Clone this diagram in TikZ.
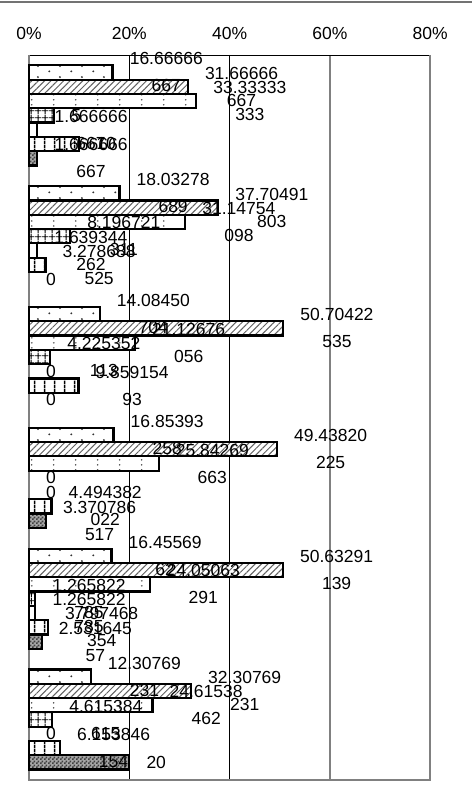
\documentclass[tikz,border=0pt]{standalone}
\usepackage{fontspec}
\setmainfont{Liberation Sans}
\usetikzlibrary{patterns,patterns.meta}

\pgfdeclarepatternformonly{sparsedots}{\pgfpointorigin}{\pgfpoint{22pt}{11pt}}{\pgfpoint{22pt}{11pt}}{%
  \pgfpathcircle{\pgfpoint{5.5pt}{2.75pt}}{1.1pt}%
  \pgfpathcircle{\pgfpoint{16.5pt}{8.25pt}}{1.1pt}%
  \pgfusepath{fill}}
\pgfdeclarepatternformonly{dotcolumns}{\pgfpointorigin}{\pgfpoint{21.7pt}{4.5pt}}{\pgfpoint{21.7pt}{4.5pt}}{%
  \pgfpathcircle{\pgfpoint{10.85pt}{2.25pt}}{0.9pt}%
  \pgfusepath{fill}}
\pgfdeclarepatternformonly{smallgrid}{\pgfpointorigin}{\pgfpoint{7pt}{7pt}}{\pgfpoint{7pt}{7pt}}{%
  \pgfsetlinewidth{1pt}%
  \pgfpathmoveto{\pgfpoint{0pt}{3.5pt}}\pgfpathlineto{\pgfpoint{7pt}{3.5pt}}%
  \pgfpathmoveto{\pgfpoint{3.5pt}{0pt}}\pgfpathlineto{\pgfpoint{3.5pt}{7pt}}%
  \pgfusepath{stroke}}
\pgfdeclarepatternformonly{vbars}{\pgfpointorigin}{\pgfpoint{10pt}{4pt}}{\pgfpoint{10pt}{4pt}}{%
  \pgfsetlinewidth{1.5pt}%
  \pgfpathmoveto{\pgfpoint{5pt}{0pt}}\pgfpathlineto{\pgfpoint{5pt}{4pt}}%
  \pgfusepath{stroke}}
\pgfdeclarepatternformonly{checks}{\pgfpointorigin}{\pgfpoint{4pt}{4pt}}{\pgfpoint{4pt}{4pt}}{%
  \pgfpathrectangle{\pgfpoint{0pt}{0pt}}{\pgfpoint{2pt}{2pt}}%
  \pgfpathrectangle{\pgfpoint{2pt}{2pt}}{\pgfpoint{2pt}{2pt}}%
  \pgfusepath{fill}}

\def\xzero{29}
\def\pc{5.015}
\def\rowy#1#2{(58.15+120.83*#1+14.3*#2)}
\def\databar[#1]#2#3#4{\draw[#1] (\xzero,{\rowy{#2}{#3}-7.15}) rectangle ({\xzero+#4*\pc},{\rowy{#2}{#3}+7.15});}
\def\datalabel(#1)#2#3#4#5{\node[val] (#1) at ({\xzero+#4*\pc+17},{\rowy{#2}{#3}}) {#5};}

\begin{document}
\begin{tikzpicture}[x=1pt,y=-1pt,
    bar/.style={draw=black,line width=2.2pt,preaction={fill=white}},
    sone/.style={bar,pattern=sparsedots,pattern color=black!80},
    stwo/.style={bar,pattern={Lines[angle=45,distance=4.5pt,line width=1pt]},pattern color=gray!75!black},
    sthree/.style={bar,pattern=dotcolumns,pattern color=gray!60!black},
    sfour/.style={bar,pattern=smallgrid,pattern color=black},
    sfive/.style={bar},
    ssix/.style={bar,pattern=vbars,pattern color=black},
    sseven/.style={bar,preaction={fill=gray!70},pattern=checks,pattern color=black!75},
    val/.style={inner sep=0pt,anchor=west,align=center,font=\fontsize{17.5}{27}\selectfont},
    tick/.style={inner sep=0pt,font=\fontsize{17.5}{21}\selectfont}]
			%%%%% START %%%%%
			
			\fill[white] (0,0) rectangle (472,800);
			\useasboundingbox (0,0) rectangle (472,800);
			
			\draw[line width=2.5pt, color=gray!90!black] (0,2) -- (472,2);
			
			\node[tick] (p0) at (29,33) {0\%};
			\node[tick] (p20) at (129.3,33) {20\%};
			\node[tick] (p40) at (229.6,33) {40\%};
			\node[tick] (p60) at (329.9,33) {60\%};
			\node[tick] (p80) at (430.2,33) {80\%};
			
			\draw[line width=0.9pt] (129.3,55) -- (129.3,780);
			\draw[line width=0.9pt] (229.6,55) -- (229.6,780);
			\draw[line width=1.6pt, color=gray] (329.9,55) -- (329.9,780);
			\draw[line width=0.9pt] (29,55) -- (430.2,55);
			\draw[line width=2pt, color=gray] (29,55) -- (29,780) -- (430.2,780) -- (430.2,55);
			
			\databar[sone]{0}{1}{16.666666667}
			\databar[stwo]{0}{2}{31.666666667}
			\databar[sthree]{0}{3}{33.333333333}
			\databar[sfour]{0}{4}{5}
			\databar[sfive]{0}{5}{1.666666667}
			\databar[ssix]{0}{6}{10}
			\databar[sseven]{0}{7}{1.666666667}
			
			\databar[sone]{1}{1}{18.032786885}
			\databar[stwo]{1}{2}{37.704918033}
			\databar[sthree]{1}{3}{31.147540984}
			\databar[sfour]{1}{4}{8.196721311}
			\databar[sfive]{1}{5}{1.639344262}
			\databar[ssix]{1}{6}{3.278688525}
			
			\databar[sone]{2}{1}{14.084507042}
			\databar[stwo]{2}{2}{50.704225352}
			\databar[sthree]{2}{3}{21.126760563}
			\databar[sfour]{2}{4}{4.225352113}
			\databar[ssix]{2}{6}{9.85915493}
			
			\databar[sone]{3}{1}{16.853932584}
			\databar[stwo]{3}{2}{49.438202247}
			\databar[sthree]{3}{3}{25.842696629}
			\databar[ssix]{3}{6}{4.494382022}
			\databar[sseven]{3}{7}{3.370786517}
			
			\databar[sone]{4}{1}{16.455696203}
			\databar[stwo]{4}{2}{50.632911392}
			\databar[sthree]{4}{3}{24.050632911}
			\databar[sfour]{4}{4}{1.265822785}
			\databar[sfive]{4}{5}{1.265822785}
			\databar[ssix]{4}{6}{3.797468354}
			\databar[sseven]{4}{7}{2.53164557}
			
			\databar[sone]{5}{1}{12.307692308}
			\databar[stwo]{5}{2}{32.307692308}
			\databar[sthree]{5}{3}{24.615384615}
			\databar[sfour]{5}{4}{4.615384615}
			\databar[ssix]{5}{6}{6.153846154}
			\databar[sseven]{5}{7}{20}
			
			\datalabel(a1){0}{1}{16.666666667}{16.66666\\667}
			\datalabel(a2){0}{2}{31.666666667}{31.66666\\667}
			\datalabel(a3){0}{3}{33.333333333}{33.33333\\333}
			\datalabel(a4){0}{4}{5}{5}
			\datalabel(a5){0}{5}{1.666666667}{1.666666\\667}
			\datalabel(a6){0}{6}{10}{10}
			\datalabel(a7){0}{7}{1.666666667}{1.666666\\667}
			
			\datalabel(b1){1}{1}{18.032786885}{18.03278\\689}
			\datalabel(b2){1}{2}{37.704918033}{37.70491\\803}
			\datalabel(b3){1}{3}{31.147540984}{31.14754\\098}
			\datalabel(b4){1}{4}{8.196721311}{8.196721\\311}
			\datalabel(b5){1}{5}{1.639344262}{1.639344\\262}
			\datalabel(b6){1}{6}{3.278688525}{3.278688\\525}
			\datalabel(b7){1}{7}{0}{0}
			
			\datalabel(c1){2}{1}{14.084507042}{14.08450\\704}
			\datalabel(c2){2}{2}{50.704225352}{50.70422\\535}
			\datalabel(c3){2}{3}{21.126760563}{21.12676\\056}
			\datalabel(c4){2}{4}{4.225352113}{4.225352\\113}
			\datalabel(c5){2}{5}{0}{0}
			\datalabel(c6){2}{6}{9.85915493}{9.859154\\93}
			\datalabel(c7){2}{7}{0}{0}
			
			\datalabel(d1){3}{1}{16.853932584}{16.85393\\258}
			\datalabel(d2){3}{2}{49.438202247}{49.43820\\225}
			\datalabel(d3){3}{3}{25.842696629}{25.84269\\663}
			\datalabel(d4){3}{4}{0}{0}
			\datalabel(d5){3}{5}{0}{0}
			\datalabel(d6){3}{6}{4.494382022}{4.494382\\022}
			\datalabel(d7){3}{7}{3.370786517}{3.370786\\517}
			
			\datalabel(e1){4}{1}{16.455696203}{16.45569\\62}
			\datalabel(e2){4}{2}{50.632911392}{50.63291\\139}
			\datalabel(e3){4}{3}{24.050632911}{24.05063\\291}
			\datalabel(e4){4}{4}{1.265822785}{1.265822\\785}
			\datalabel(e5){4}{5}{1.265822785}{1.265822\\785}
			\datalabel(e6){4}{6}{3.797468354}{3.797468\\354}
			\datalabel(e7){4}{7}{2.53164557}{2.531645\\57}
			
			\datalabel(f1){5}{1}{12.307692308}{12.30769\\231}
			\datalabel(f2){5}{2}{32.307692308}{32.30769\\231}
			\datalabel(f3){5}{3}{24.615384615}{24.61538\\462}
			\datalabel(f4){5}{4}{4.615384615}{4.615384\\615}
			\datalabel(f5){5}{5}{0}{0}
			\datalabel(f6){5}{6}{6.153846154}{6.153846\\154}
			\datalabel(f7){5}{7}{20}{20}
			
			%%%%% END %%%%%
\end{tikzpicture}
\end{document}
